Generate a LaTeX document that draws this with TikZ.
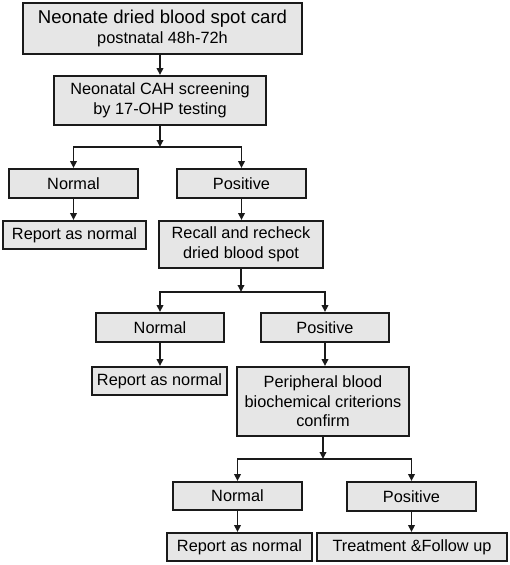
\documentclass[tikz,border=0pt]{standalone}
\usepackage{fontspec}
\setmainfont{Liberation Sans}
\usetikzlibrary{arrows.meta}
\definecolor{boxfill}{HTML}{E6E6E6}
\definecolor{boxline}{HTML}{1A1A1A}
\tikzset{
  fbox/.style={draw=boxline, line width=1.9pt, fill=boxfill, inner sep=0pt,
    align=center, font=\fontsize{16.3}{19.5}\selectfont, text=black},
  arr/.style={draw=boxline, line width=1.7pt, -{Triangle[length=7pt,width=6.5pt]}},
  ln/.style={draw=boxline, line width=1.7pt}
}
\begin{document}
\begin{tikzpicture}[x=1pt,y=-1pt]
\useasboundingbox (0,0) rectangle (510,565);
\node[fbox, minimum width=279pt, minimum height=51pt] (b1) at (162.5,28.5)
  {{\fontsize{18.6}{19.5}\selectfont Neonate dried blood spot card}\\postnatal 48h-72h};
\node[fbox, minimum width=212pt, minimum height=49pt] (b2) at (160,100.5)
  {Neonatal CAH screening\\by 17-OHP testing};
\node[fbox, minimum width=129pt, minimum height=29pt] (n1) at (73.5,183.5) {Normal};
\node[fbox, minimum width=129pt, minimum height=29pt] (p1) at (241.5,183.5) {Positive};
\node[fbox, minimum width=143pt, minimum height=28pt] (r1) at (74.5,235) {Report as normal};
\node[fbox, minimum width=164pt, minimum height=47pt] (rc) at (241,244.5)
  {Recall and recheck\\dried blood spot};
\node[fbox, minimum width=128pt, minimum height=29pt] (n2) at (160,327.5) {Normal};
\node[fbox, minimum width=128pt, minimum height=29pt] (p2) at (325,327.5) {Positive};
\node[fbox, minimum width=135pt, minimum height=28pt] (r2) at (159.5,381) {Report as normal};
\node[fbox, minimum width=172pt, minimum height=69pt] (pb) at (323,401.5)
  {Peripheral blood\\biochemical criterions\\confirm};
\node[fbox, minimum width=129pt, minimum height=28pt] (n3) at (237.5,496) {Normal};
\node[fbox, minimum width=129pt, minimum height=29pt] (p3) at (411.5,496.5) {Positive};
\node[fbox, minimum width=145pt, minimum height=28pt] (r3) at (239.5,547) {Report as normal};
\node[fbox, minimum width=190pt, minimum height=28pt] (t3) at (412,547) {Treatment \&Follow up};

\coordinate (j1) at (160,147);
\coordinate (j2) at (241,292);
\coordinate (j3) at (323,459);

\draw[arr] (b1.south -| b2.north) -- (b2.north);
\draw[arr] (b2.south) -- (j1);
\draw[arr] (j1) -| (n1.north);
\draw[arr] (j1) -| (p1.north);
\draw[arr] (n1.south) -- (n1.south |- r1.north);
\draw[arr] (p1.south) -- (p1.south |- rc.north);

\draw[arr] (rc.south) -- (j2);
\draw[arr] (j2) -| (n2.north);
\draw[arr] (j2) -| (p2.north);
\draw[arr] (n2.south) -- (n2.south |- r2.north);
\draw[arr] (p2.south) -- (p2.south |- pb.north);

\draw[arr] (pb.south) -- (j3);
\draw[arr] (j3) -| (n3.north);
\draw[arr] (j3) -| (p3.north);
\draw[arr] (n3.south) -- (n3.south |- r3.north);
\draw[arr] (p3.south) -- (p3.south |- t3.north);
\end{tikzpicture}
\end{document}
